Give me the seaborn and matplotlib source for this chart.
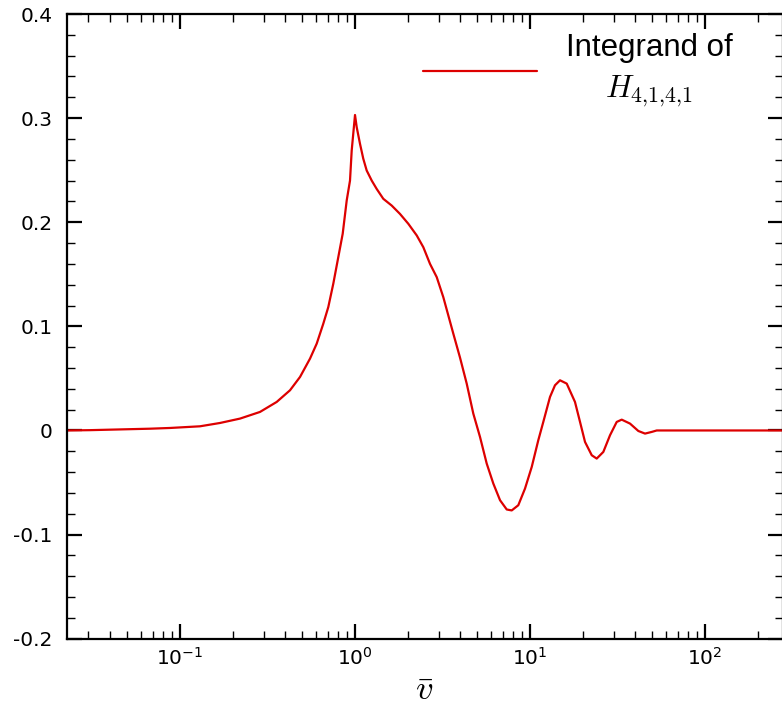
import matplotlib
matplotlib.use("Agg")
import matplotlib.pyplot as plt
import matplotlib.ticker as mticker
import pandas as pd
import seaborn as sns

# curve (v on a log axis, integrand value)
v_bar = [
    0.02261, 0.03059, 0.04542, 0.06741, 0.08767, 0.1301, 0.1693, 0.2202,
    0.2865, 0.3569, 0.4252, 0.4851, 0.5532, 0.6042, 0.6590, 0.7036,
    0.7516, 0.8027, 0.8506, 0.8967, 0.9363, 0.9575, 1.0, 1.0226,
    1.068, 1.115, 1.166, 1.246, 1.330, 1.451, 1.621, 1.807,
    2.017, 2.253, 2.457, 2.683, 2.930, 3.196, 3.645, 3.981,
    4.348, 4.742, 5.179, 5.657, 6.171, 6.741, 7.362, 7.861,
    8.572, 9.363, 10.23, 11.15, 11.91, 13.01, 13.89, 14.84,
    16.21, 18.07, 19.31, 20.62, 22.53, 24.05, 26.24, 28.65,
    31.29, 33.42, 37.28, 41.59, 45.41, 49.61, 52.97, 279.0,
]
integrand = [
    0.0, 0.0003, 0.001, 0.0017, 0.0024, 0.004, 0.0072, 0.0114,
    0.0178, 0.0274, 0.0386, 0.0514, 0.069, 0.0834, 0.1026, 0.1185,
    0.141, 0.1665, 0.189, 0.221, 0.240, 0.269, 0.3030, 0.2913,
    0.2753, 0.261, 0.2497, 0.240, 0.232, 0.2225, 0.216, 0.208,
    0.1985, 0.1873, 0.176, 0.160, 0.1473, 0.128, 0.093, 0.070,
    0.045, 0.0162, -0.0062, -0.0318, -0.051, -0.067, -0.0759, -0.0768,
    -0.0718, -0.0558, -0.035, -0.0094, 0.0082, 0.0322, 0.0434, 0.0482,
    0.045, 0.0274, 0.0082, -0.011, -0.0238, -0.027, -0.0206, -0.0046,
    0.0082, 0.0104, 0.0066, -0.0005, -0.003, -0.0014, 0.0, 0.0,
]
y_ticks = [-0.2, -0.1, 0.0, 0.1, 0.2, 0.3, 0.4]
y_labels = ["-0.2", "-0.1", "0", "0.1", "0.2", "0.3", "0.4"]
series_label = "Integrand of\n$H_{4{,}1{,}4{,}1}$"

sns.set_style("ticks", rc={"text.color": "black", "axes.labelcolor": "black"})
plt.rcParams["font.family"] = ["DejaVu Sans"]
plt.rcParams["mathtext.fontset"] = "cm"
plt.rcParams["axes.unicode_minus"] = False

df = pd.DataFrame({"v": v_bar, "val": integrand})

fig = plt.figure(figsize=(7.82, 7.08), dpi=100)
ax = fig.add_axes([66.7 / 782, (708 - 638.7) / 708, (783 - 66.7) / 782, (638.7 - 14) / 708])

sns.lineplot(data=df, x="v", y="val", ax=ax, color="#dd0000", linewidth=1.6,
             label=series_label, errorbar=None, sort=False)

ax.set_xscale("log")
ax.set_xlim(0.02252, 279)
ax.set_ylim(-0.2, 0.4)
ax.set_yticks(y_ticks)
ax.set_yticklabels(y_labels)
ax.yaxis.set_minor_locator(mticker.MultipleLocator(0.02))
ax.xaxis.set_minor_formatter(mticker.NullFormatter())

for side in ["left", "right", "top", "bottom"]:
    ax.spines[side].set_color("black")
    ax.spines[side].set_linewidth(1.6)

ax.tick_params(which="both", direction="in", top=True, right=True, colors="black")
ax.tick_params(which="major", length=10.5, width=1.6, labelsize=14.5)
ax.tick_params(axis="y", which="major", pad=10)
ax.tick_params(axis="x", which="major", pad=6)
ax.tick_params(which="minor", length=6, width=1.0)

ax.set_xlabel(r"$\bar{v}$", fontsize=25, labelpad=3, color="black")
ax.set_ylabel("")

leg = ax.legend(loc="upper left", bbox_to_anchor=((423 - 66.7) / 716.3, (638.7 - 33) / 624.7),
                frameon=False, borderpad=0, borderaxespad=0, handlelength=3.65,
                handletextpad=0.93, prop={"family": "Liberation Sans", "size": 22.5})
for t in leg.get_texts():
    t.set_multialignment("center")
    t.set_linespacing(1.45)
    t.set_color("black")

fig.savefig("out.png", dpi=100)
